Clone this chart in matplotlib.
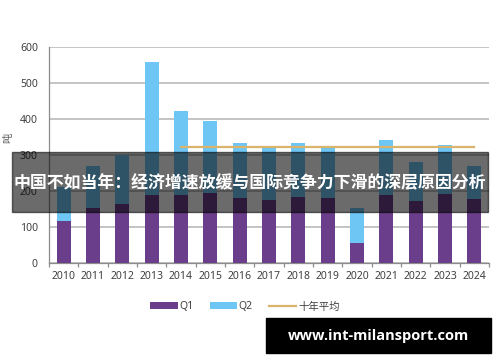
import matplotlib.pyplot as plt
import numpy as np
from matplotlib.patches import Rectangle

plt.rcParams['font.family'] = ['Noto Sans', 'Noto Sans CJK SC', 'DejaVu Sans']

years = ['2010', '2011', '2012', '2013', '2014', '2015', '2016', '2017',
         '2018', '2019', '2020', '2021', '2022', '2023', '2024']
q1 = [117, 152, 164, 190, 190, 195, 180, 175, 183, 180, 56, 189, 172, 192, 178]
total = [210, 269, 300, 558, 422, 394, 333, 319, 333, 319, 153, 342, 281, 328, 270]
q2 = [t - a for t, a in zip(total, q1)]
avg_years = ['2014', '2024']
avg_value = 322

title_text = '中国不如当年：经济增速放缓与国际竞争力下滑的深层原因分析'
watermark = 'www.int-milansport.com'

fig = plt.figure(figsize=(5, 3.62), dpi=100)
ax = fig.add_axes([0.098, 0.2735, 0.88, 0.5965])

x = np.arange(len(years))
b1 = ax.bar(x, q1, width=0.47, color='#6B3E8C', label='Q1', zorder=3)
b2 = ax.bar(x, q2, width=0.47, bottom=q1, color='#6EC6F5', label='Q2', zorder=3)
ln, = ax.plot([years.index(avg_years[0]), years.index(avg_years[1])], [avg_value, avg_value],
              color='#D9B46A', lw=1.6, label='十年平均', zorder=4)

ax.set_xlim(-0.5, len(years) - 0.5)
ax.set_ylim(0, 600)
ax.set_yticks(range(0, 601, 100))
ax.set_xticks(x)
ax.set_xticklabels(years)
ax.set_xticks(np.arange(-0.5, len(years), 1), minor=True)
ax.tick_params(axis='x', which='major', length=0, pad=6, labelsize=7.5, labelcolor='#404040')
ax.tick_params(axis='x', which='minor', length=3, color='#8C8C8C', width=0.9)
ax.tick_params(axis='y', length=0, pad=8, labelsize=7.5, labelcolor='#404040')
ax.grid(axis='y', color='#BFBFBF', lw=1.3, zorder=0)
for s in ['top', 'right']:
    ax.spines[s].set_visible(False)
ax.spines['left'].set_color('#8C8C8C')
ax.spines['bottom'].set_color('#8C8C8C')
ax.spines['left'].set_linewidth(0.9)
ax.spines['bottom'].set_linewidth(0.9)
fig.text(0.016, 0.62, '吨', rotation=90, fontsize=7.5, color='#595959',
         family=['Noto Sans CJK SC'], va='center', ha='center')

fig.legend(handles=[b1, b2, ln], loc='center', bbox_to_anchor=(0.49, 0.152), ncol=3,
           frameon=False, fontsize=7.5, handlelength=2.6, handleheight=0.6,
           columnspacing=1.6, handletextpad=0.15, labelcolor='#404040')

# overlay band with headline
fig.patches.append(Rectangle((0.024, 1 - 212 / 362), 0.952, 60 / 362,
                             transform=fig.transFigure, color='black', alpha=0.58,
                             zorder=10))
fig.text(0.5, 1 - 183 / 362, title_text, ha='center', va='center', color='white',
         fontsize=12.2, fontweight='bold', family=['Noto Sans CJK SC'], zorder=11)

# watermark box
fig.patches.append(Rectangle((0.532, 1 - 353 / 362), 0.45, 35 / 362,
                             transform=fig.transFigure, color='black', zorder=10))
fig.text(0.757, 1 - 336 / 362, watermark, ha='center', va='center', color='white',
         fontsize=10.5, fontweight='bold', family=['Open Sans'], zorder=11)

fig.savefig('out.png', dpi=100)
